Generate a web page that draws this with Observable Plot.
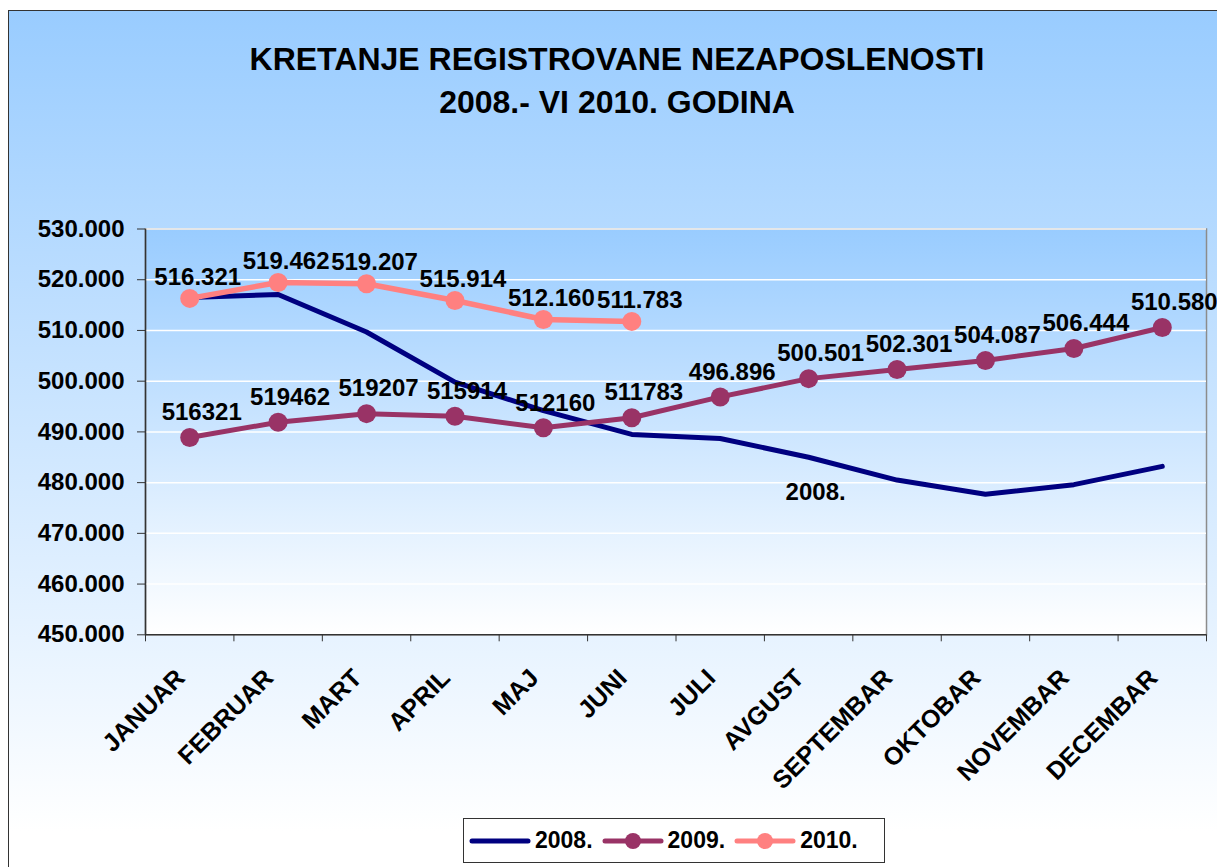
<!DOCTYPE html>
<html>
<head>
<meta charset="utf-8">
<script src="https://cdn.jsdelivr.net/npm/d3@7"></script>
<script src="https://cdn.jsdelivr.net/npm/@observablehq/plot@0.6"></script>
<style>
  html, body { margin: 0; padding: 0; background: #ffffff; overflow: hidden; }
  #page { position: relative; width: 1217px; height: 867px; overflow: hidden;
          font-family: 'Liberation Sans', Arial, sans-serif; font-weight: bold; color: #000; }
  #frame { position: absolute; left: 8px; top: 10px; width: 1240px; height: 900px;
           border: 1.5px solid #333; box-sizing: border-box;
           background: linear-gradient(to bottom, #99ccff 0px, #ffffff 820px); }
  #title { position: absolute; left: 0; top: 38px; width: 1234px; text-align: center;
           font-size: 32px; line-height: 43px; }
  #chart { position: absolute; left: 0; top: 190px; }
  #legend { position: absolute; left: 463px; top: 818px; width: 422px; height: 45px;
            box-sizing: border-box; border: 1.5px solid #333; background: #ffffff;
            display: flex; align-items: center; padding-left: 5px; font-size: 23px; }
  #legend .item { display: flex; align-items: center; margin-right: 9px; }
  #legend svg { display: block; margin-right: 4px; }
</style>
</head>
<body>
<div id="page">
  <div id="frame"></div>
  <div id="title">KRETANJE REGISTROVANE NEZAPOSLENOSTI<br>2008.- VI 2010. GODINA</div>
  <div id="chart"></div>
  <div id="legend"></div>
</div>
<script>
// ---- data ----
const months = ["JANUAR","FEBRUAR","MART","APRIL","MAJ","JUNI","JULI","AVGUST","SEPTEMBAR","OKTOBAR","NOVEMBAR","DECEMBAR"];
const v2008 = [516500, 517100, 509700, 499800, 494200, 489500, 488700, 485000, 480500, 477700, 479600, 483200];
const v2009 = [488900, 491900, 493600, 493100, 490800, 492800, 496896, 500501, 502301, 504087, 506444, 510580];
const labels2009 = ["516321","519462","519207","515914","512160","511783","496.896","500.501","502.301","504.087","506.444","510.580"];
const v2010 = [516321, 519462, 519207, 515914, 512160, 511783];
const yTicks = [450000, 460000, 470000, 480000, 490000, 500000, 510000, 520000, 530000];
const seriesNames = ["2008.", "2009.", "2010."];
const seriesColors = ["#000080", "#993366", "#ff8080"];

const fmt = d3.formatLocale({decimal: ",", thousands: ".", grouping: [3], currency: ["", ""]}).format(",");

const d08 = v2008.map((v, i) => ({x: i + 0.5, y: v}));
const d09 = v2009.map((v, i) => ({x: i + 0.5, y: v, label: labels2009[i]}));
const d10 = v2010.map((v, i) => ({x: i + 0.5, y: v, label: fmt(v)}));
const seriesLabel2008 = [{x: d08[7].x, y: d08[7].y, label: seriesNames[0]}];

const plot = Plot.plot({
  width: 1217,
  height: 610,
  marginLeft: 145,
  marginRight: 11,
  marginTop: 38.5,
  marginBottom: 165.7,
  style: {fontFamily: "'Liberation Sans', Arial, sans-serif", fontWeight: "bold", background: "transparent", color: "#000", overflow: "visible"},
  x: {type: "linear", domain: [0, months.length]},
  y: {domain: [yTicks[0], yTicks[yTicks.length - 1]]},
  marks: [
    Plot.frame({fill: "url(#plotBg)", stroke: "#8c8c8c", strokeWidth: 1.5}),
    Plot.gridY({ticks: yTicks, stroke: "#ffffff", strokeOpacity: 1, strokeWidth: 1.5}),
    Plot.ruleX([0], {stroke: "#333", strokeWidth: 1.5}),
    Plot.ruleY([yTicks[0]], {stroke: "#333", strokeWidth: 1.5}),
    Plot.axisY({ticks: yTicks, tickFormat: fmt, tickSize: 8, tickPadding: 13, fontSize: 24, stroke: "#333", fill: "#000", label: null}),
    Plot.axisX({ticks: d3.range(months.length + 1), tickFormat: () => "", tickSize: 7, stroke: "#333", label: null}),
    Plot.axisX({ticks: months.map((m, i) => i + 0.5), tickFormat: d => months[Math.floor(d)], tickSize: 0, tickPadding: 39, tickRotate: -45, dx: -9, fontSize: 25, fill: "#000", textAnchor: "end", lineAnchor: "middle", label: null}),
    Plot.line(d08, {x: "x", y: "y", stroke: seriesColors[0], strokeWidth: 5, strokeLinecap: "round", strokeLinejoin: "round"}),
    Plot.line(d09, {x: "x", y: "y", stroke: seriesColors[1], strokeWidth: 5, strokeLinecap: "round", strokeLinejoin: "round"}),
    Plot.dot(d09, {x: "x", y: "y", r: 9.5, fill: seriesColors[1], stroke: null}),
    Plot.line(d10, {x: "x", y: "y", stroke: seriesColors[2], strokeWidth: 5.5, strokeLinecap: "round", strokeLinejoin: "round"}),
    Plot.dot(d10, {x: "x", y: "y", r: 9.5, fill: seriesColors[2], stroke: null}),
    Plot.text(d09, {x: "x", y: "y", text: "label", dx: 12, dy: -25, fontSize: 24, fontWeight: "bold", fill: "#000"}),
    Plot.text(d10, {x: "x", y: "y", text: "label", dx: 8, dy: -21, fontSize: 24, fontWeight: "bold", fill: "#000"}),
    Plot.text(seriesLabel2008, {x: "x", y: "y", text: "label", dx: 7, dy: 35, fontSize: 24, fontWeight: "bold", fill: "#000"})
  ]
});

const svg = d3.select(plot);
const defs = svg.insert("defs", ":first-child");
const grad = defs.append("linearGradient").attr("id", "plotBg").attr("x1", 0).attr("y1", 0).attr("x2", 0).attr("y2", 1);
grad.append("stop").attr("offset", "0%").attr("stop-color", "#99ccff");
grad.append("stop").attr("offset", "100%").attr("stop-color", "#ffffff");

document.getElementById("chart").appendChild(plot);

// ---- legend ----
const legend = d3.select("#legend");
seriesNames.forEach((name, i) => {
  const item = legend.append("div").attr("class", "item");
  const s = item.append("svg").attr("width", 62).attr("height", 22);
  s.append("line").attr("x1", 3).attr("x2", 59).attr("y1", 11).attr("y2", 11)
    .attr("stroke", seriesColors[i]).attr("stroke-width", 5).attr("stroke-linecap", "round");
  if (i > 0) s.append("circle").attr("cx", 31).attr("cy", 11).attr("r", 8).attr("fill", seriesColors[i]);
  item.append("span").text(name);
});
</script>
</body>
</html>
